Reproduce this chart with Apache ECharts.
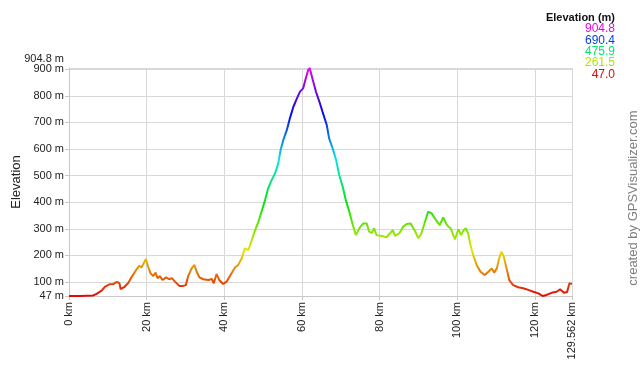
<!DOCTYPE html>
<html>
<head>
<meta charset="utf-8">
<script src="https://cdn.jsdelivr.net/npm/echarts@6/dist/echarts.min.js"></script>
<style>
html,body{margin:0;padding:0;background:#fff;}
#chart{width:640px;height:366px;}
</style>
</head>
<body>
<div id="chart"></div>
<script>
// Distance along track (km)
const distanceKm = [0, 2.8, 6.2, 7.1, 8.4, 9.3, 10.4, 11.4, 12.3, 13.0, 13.3, 14.2, 15.3, 16.2, 17.3, 18.1, 18.7, 19.1, 19.8,
  20.4, 21.0, 21.7, 22.3, 22.8, 23.4, 24.1, 25.0, 25.8, 26.5, 27.3, 28.4, 29.4, 30.1, 30.7, 31.6, 32.3, 32.9, 33.6, 34.6,
  35.9, 36.8, 37.3, 38.0, 38.7, 39.7, 40.6, 41.6, 42.8, 43.6, 44.5, 45.3, 46.2, 47.1, 47.9, 48.8, 49.6, 50.5, 51.3, 52.2,
  53.1, 53.9, 54.5, 55.2, 56.1, 56.9, 57.8, 58.6, 59.5, 60.3, 61.0, 61.6, 62.0, 62.8, 63.6, 64.5, 65.3, 66.4, 67.0, 67.9,
  68.8, 69.6, 70.5, 71.3, 72.2, 73.1, 73.9, 74.8, 75.8, 76.7, 77.3, 78.0, 78.6, 79.2, 80.5, 81.8, 82.7, 83.4, 84.0, 85.1,
  86.1, 87.0, 88.0, 88.7, 89.4, 90.0, 90.8, 91.7, 92.5, 93.4, 94.5, 95.5, 96.4, 97.1, 97.7, 98.3, 98.8, 99.4, 100.3, 101.0,
  101.6, 102.2, 102.8, 103.5, 104.1, 105.0, 106.0, 107.1, 108.0, 108.9, 109.5, 110.2, 110.8, 111.4, 112.0, 112.7, 113.4,
  114.4, 115.7, 117.0, 118.3, 119.6, 120.9, 122.0, 123.0, 124.3, 125.6, 126.5, 127.5, 128.3, 128.9, 129.562];
// Elevation (m)
const elevationM = [47, 47, 49, 55, 67, 82, 91, 92, 100, 95, 73, 80, 97, 120, 145, 160, 155, 166, 186,
  157, 132, 122, 135, 114, 122, 107, 117, 110, 114, 101, 85, 85, 88, 122, 151, 164, 138, 117, 110,
  107, 111, 95, 130, 107, 92, 101, 126, 155, 164, 189, 226, 220, 258, 293, 327, 364, 408, 452, 483,
  509, 546, 596, 634, 671, 716, 759, 787, 816, 828, 866, 897, 904.8, 860, 816, 778, 740, 690, 640, 603,
  559, 502, 458, 408, 364, 314, 276, 302, 320, 320, 289, 284, 302, 276, 273, 268, 283, 295, 273, 283,
  308, 318, 320, 302, 283, 264, 283, 327, 364, 358, 333, 314, 343, 320, 308, 302, 283, 260, 298, 276,
  293, 302, 283, 232, 201, 164, 138, 126, 138, 151, 135, 151, 189, 214, 195, 151, 107,
  88, 80, 76, 70, 63, 57, 47, 51, 59, 63, 72, 59, 62, 95, 92];
// Axis tick values
const yTickValues = [47, 100, 200, 300, 400, 500, 600, 700, 800, 900];
const yTopValue = [904.8];
const xTickValues = [0, 20, 40, 60, 80, 100, 120, 129.562];

const minElev = Math.min.apply(null, elevationM);
const maxElev = Math.max.apply(null, elevationM);

function hslHex(h, s, l) {
  s /= 100; l /= 100;
  const k = n => (n + h / 30) % 12;
  const a = s * Math.min(l, 1 - l);
  const f = n => l - a * Math.max(-1, Math.min(k(n) - 3, Math.min(9 - k(n), 1)));
  const hx = v => Math.round(v * 255).toString(16).padStart(2, '0');
  return '#' + hx(f(0)) + hx(f(8)) + hx(f(4));
}
function colorAt(t) { return hslHex(300 * t, 95, 46); }
const rampColors = [];
for (let i = 0; i <= 20; i++) rampColors.push(colorAt(i / 20));

// legend levels
const legendLevels = [];
for (let k = 4; k >= 0; k--) legendLevels.push({ v: minElev + k * (maxElev - minElev) / 4, c: colorAt(k / 4) });
const rich = { h: { fontFamily: 'Liberation Sans', fontWeight: 'bold', fontSize: 11, fill: '#111', lineHeight: 12, align: 'right' } };
let legendText = '{h|Elevation (m)}';
legendLevels.forEach((L, i) => {
  rich['c' + i] = { fontFamily: 'Liberation Sans', fontSize: 12, fill: L.c, lineHeight: 11.3, align: 'right' };
  legendText += '\n{c' + i + '|' + (Math.round(L.v * 10 + 1e-6) / 10).toFixed(1) + '}';
});

const data = distanceKm.map((d, i) => [d, elevationM[i]]);
const chart = echarts.init(document.getElementById('chart'), null, { renderer: 'canvas' });
const gridColor = '#d8d8d8';
const axisColor = '#c8c8c8';
chart.setOption({
  animation: false,
  backgroundColor: '#fff',
  textStyle: { fontFamily: 'Liberation Sans' },
  grid: { left: 69, right: 68, top: 68, bottom: 70, containLabel: false, outerBoundsMode: 'none' },
  xAxis: {
    type: 'value', min: 0, max: 129.562,
    name: 'Distance', nameLocation: 'middle', nameGap: 62,
    nameTextStyle: { fontSize: 13, color: '#222', fontFamily: 'Liberation Sans' },
    axisLine: { show: true, lineStyle: { color: axisColor } },
    axisTick: { show: true, length: 4, customValues: xTickValues, lineStyle: { color: axisColor } },
    axisLabel: {
      customValues: xTickValues, rotate: 90, fontSize: 11, color: '#222', margin: 6,
      showMinLabel: true, showMaxLabel: true, hideOverlap: false,
      formatter: v => (Math.abs(v - 129.562) < 1e-6 ? '129.562' : String(v)) + ' km'
    },
    splitLine: { show: true, lineStyle: { color: gridColor } }
  },
  yAxis: [{
    type: 'value', min: 47, max: 904.8, position: 'left',
    name: 'Elevation', nameLocation: 'middle', nameGap: 42, nameRotate: 90,
    nameTextStyle: { fontSize: 13, color: '#222', fontFamily: 'Liberation Sans' },
    axisLine: { show: true, lineStyle: { color: axisColor } },
    axisTick: { show: true, length: 4, customValues: yTickValues, lineStyle: { color: axisColor } },
    axisLabel: {
      customValues: yTickValues, fontSize: 11, color: '#222', margin: 5,
      showMinLabel: true, showMaxLabel: true, hideOverlap: false,
      formatter: v => v + ' m'
    },
    splitLine: { show: true, lineStyle: { color: gridColor } }
  }, {
    type: 'value', min: 47, max: 904.8, position: 'left', offset: 0,
    axisLine: { show: false },
    axisTick: { show: false, customValues: yTopValue },
    axisLabel: {
      customValues: yTopValue, fontSize: 11, color: '#222', margin: 5,
      showMinLabel: true, showMaxLabel: true, hideOverlap: false,
      formatter: v => '{top|' + v + ' m}',
      rich: { top: { fontSize: 11, color: '#222', padding: [0, 0, 18, 0] } }
    },
    splitLine: { show: true, lineStyle: { color: gridColor } }
  }],
  visualMap: {
    show: false, type: 'continuous', dimension: 1, seriesIndex: 0,
    min: minElev, max: maxElev, inRange: { color: rampColors }
  },
  series: [{
    type: 'line', data: data, showSymbol: false, symbol: 'none', yAxisIndex: 0,
    lineStyle: { width: 2 }, silent: true
  }],
  graphic: [
    { type: 'text', right: 25, top: 12, style: { text: legendText, rich: rich, align: 'right' } },
    { type: 'text', x: 633, y: 198, rotation: Math.PI / 2,
      style: { text: 'created by GPSVisualizer.com', fontSize: 13, fill: '#808080', fontFamily: 'Liberation Sans', align: 'center', verticalAlign: 'middle' } }
  ]
});
</script>
</body>
</html>
